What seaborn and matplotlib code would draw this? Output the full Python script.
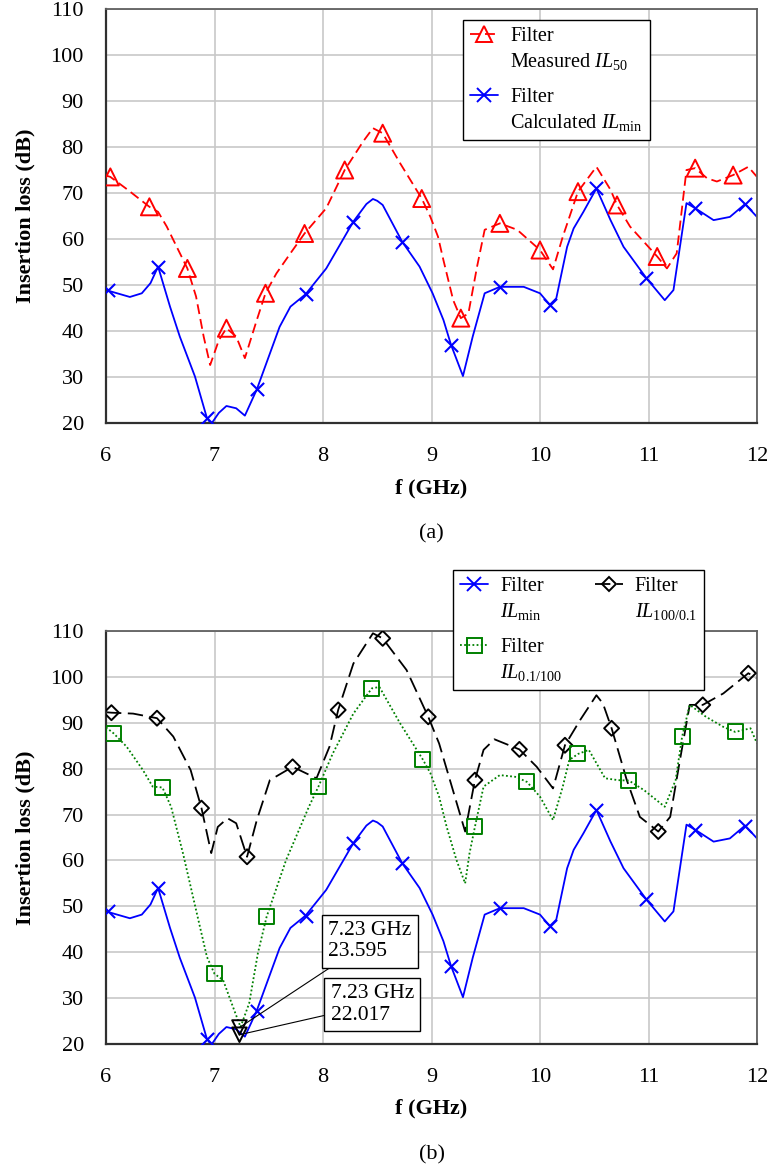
import numpy as np
import matplotlib
matplotlib.use("Agg")
import matplotlib.pyplot as plt
import seaborn as sns
from matplotlib.lines import Line2D

# ---------------- data ----------------
# Filter calculated IL_min (same curve in (a) and (b))
ilmin_f = [6.00, 6.22, 6.33, 6.41, 6.48, 6.59, 6.68, 6.82, 6.93, 6.97, 7.04, 7.11, 7.20,
           7.28, 7.39, 7.60, 7.70, 7.84, 8.03, 8.28, 8.40, 8.46, 8.50, 8.55, 8.73, 8.89,
           9.01, 9.11, 9.18, 9.29, 9.38, 9.49, 9.63, 9.85, 10.00, 10.09, 10.15, 10.25,
           10.31, 10.40, 10.52, 10.65, 10.77, 10.98, 11.15, 11.23, 11.35, 11.43, 11.60,
           11.75, 11.89, 12.00]
ilmin_db = [48.9, 47.4, 48.2, 50.4, 54.0, 45.3, 38.8, 30.1, 21.1, 19.8, 22.2, 23.7, 23.2,
            21.6, 27.3, 40.9, 45.3, 48.0, 53.6, 63.8, 67.6, 68.7, 68.3, 67.4, 59.4, 54.0,
            48.2, 42.4, 37.0, 30.2, 38.8, 48.2, 49.6, 49.6, 48.2, 45.7, 47.1, 58.3,
            62.3, 65.9, 71.0, 64.1, 58.3, 51.5, 46.7, 48.9, 67.8, 66.7, 64.1,
            64.8, 67.6, 64.8]
ilmin_mk_f = [6.02, 6.48, 6.93, 7.39, 7.84, 8.28, 8.73, 9.18, 9.63, 10.09, 10.52, 10.98, 11.43, 11.89]
ilmin_mk_db = [48.9, 54.0, 21.1, 27.3, 48.0, 63.8, 59.4, 37.0, 49.6, 45.7, 71.0, 51.5, 66.7, 67.6]

# Filter measured IL_50 (panel a)
il50_f = [6.00, 6.04, 6.20, 6.40, 6.48, 6.56, 6.75, 6.83, 6.90, 6.96, 7.04, 7.11, 7.20,
          7.28, 7.39, 7.47, 7.57, 7.70, 7.83, 8.03, 8.20, 8.37, 8.46, 8.55, 8.71, 8.91,
          8.99, 9.06, 9.11, 9.20, 9.27, 9.34, 9.42, 9.49, 9.63, 9.79, 10.00, 10.12, 10.21,
          10.35, 10.52, 10.65, 10.71, 10.83, 11.08, 11.17, 11.26, 11.35, 11.43, 11.54,
          11.63, 11.78, 11.92, 12.00]
il50_db = [73.8, 73.5, 70.7, 67.0, 65.9, 62.7, 53.6, 47.5, 38.8, 32.6, 38.0, 40.6, 38.8,
           34.1, 42.4, 48.2, 52.5, 56.9, 61.2, 66.7, 75.0, 81.2, 84.1, 83.0, 76.5, 68.8,
           64.8, 60.5, 55.4, 46.7, 42.8, 43.8, 54.0, 62.0, 63.4, 62.0, 57.6, 53.4, 60.5,
           70.3, 75.7, 70.7, 67.4, 62.7, 56.2, 53.6, 56.9, 75.0, 75.4, 73.2,
           72.5, 73.9, 75.7, 73.5]
il50_mk_f = [6.04, 6.40, 6.75, 7.11, 7.47, 7.83, 8.20, 8.55, 8.91, 9.27, 9.63, 10.00,
             10.35, 10.71, 11.08, 11.43, 11.78]
il50_mk_db = [73.5, 67.0, 53.6, 40.6, 48.2, 61.2, 75.0, 83.0, 68.8, 42.8, 63.4, 57.6,
              70.3, 67.4, 56.2, 75.4, 73.9]

# Filter IL_100/0.1 (panel b)
il100_f = [6.00, 6.05, 6.25, 6.47, 6.62, 6.78, 6.88, 6.97, 7.03, 7.12, 7.20, 7.30, 7.39,
           7.51, 7.72, 7.94, 8.06, 8.14, 8.28, 8.46, 8.55, 8.77, 8.97, 9.07, 9.17, 9.31,
           9.40, 9.48, 9.58, 9.81, 9.97, 10.12, 10.23, 10.37, 10.52, 10.58, 10.66, 10.80,
           10.92, 11.09, 11.20, 11.29, 11.38, 11.50, 11.69, 11.92, 12.00]
il100_db = [92.3, 92.2, 92.0, 91.0, 87.0, 79.7, 71.4, 61.6, 67.3, 69.2, 68.1, 60.8, 68.8,
            77.5, 80.4, 77.9, 84.8, 92.8, 102.9, 109.5, 108.4, 101.5, 91.3, 85.5, 77.5, 66.3,
            77.5, 84.1, 86.4, 84.2, 80.4, 75.7, 85.1, 90.6, 96.0, 94.2, 88.8, 77.5,
            69.5, 66.3, 69.5, 81.9, 93.9, 93.9, 96.4, 100.8, 99.7]
il100_mk_f = [6.05, 6.47, 6.88, 7.30, 7.72, 8.14, 8.55, 8.97, 9.40, 9.81, 10.23, 10.66,
              11.09, 11.50, 11.92]
il100_mk_db = [92.2, 91.0, 71.4, 60.8, 80.4, 92.8, 108.4, 91.3, 77.5, 84.2, 85.1, 88.8,
               66.3, 93.9, 100.8]

# Filter IL_0.1/100 (panel b)
il01_f = [6.00, 6.07, 6.19, 6.34, 6.43, 6.52, 6.60, 6.71, 6.83, 6.93, 7.00, 7.08, 7.17,
          7.24, 7.32, 7.40, 7.48, 7.66, 7.87, 7.96, 8.09, 8.28, 8.45, 8.52, 8.71, 8.92,
          8.99, 9.07, 9.14, 9.23, 9.31, 9.35, 9.40, 9.48, 9.63, 9.78, 9.88, 10.00, 10.12,
          10.21, 10.27, 10.35, 10.45, 10.60, 10.72, 10.82, 10.96, 11.15, 11.25, 11.31,
          11.38, 11.53, 11.69, 11.80, 11.94, 12.00]
il01_db = [89.0, 87.7, 84.8, 79.7, 76.1, 75.9, 71.7, 61.5, 49.2, 39.0, 35.3, 33.9, 28.1,
           23.7, 28.9, 39.8, 47.7, 60.1, 71.7, 76.2, 83.3, 92.0, 97.5, 97.8, 89.9, 82.0,
           79.0, 73.9, 67.3, 60.1, 55.0, 61.5, 67.3, 76.1, 78.6, 78.2, 77.1, 73.9, 68.8,
           76.1, 81.9, 83.2, 84.1, 77.9, 77.5, 77.4, 75.3, 71.7, 77.5, 87.0,
           93.9, 91.3, 89.1, 88.0, 88.8, 85.5]
il01_mk_f = [6.07, 6.52, 7.00, 7.48, 7.96, 8.45, 8.92, 9.40, 9.88, 10.35, 10.82, 11.31, 11.80]
il01_mk_db = [87.7, 75.9, 35.3, 47.7, 76.2, 97.5, 82.0, 67.3, 77.1, 83.2, 77.4, 87.0, 88.0]

# data-cursor annotations in panel (b)
ann_f = [7.23, 7.23]
ann_db = [23.595, 22.017]

x_ticks = [6, 7, 8, 9, 10, 11, 12]
y_ticks = [20, 30, 40, 50, 60, 70, 80, 90, 100, 110]

# ---------------- style ----------------
sns.set_theme(style="whitegrid")
plt.rcParams.update({
    "font.family": ["Liberation Serif", "DejaVu Serif"],
    "mathtext.fontset": "custom",
    "mathtext.rm": "Liberation Serif",
    "mathtext.it": "Liberation Serif:italic",
    "mathtext.bf": "Liberation Serif:bold",
    "text.color": "black",
    "axes.labelcolor": "black",
    "xtick.color": "black",
    "ytick.color": "black",
})

RED, BLUE, BLACK, GREEN = "#ff0000", "#0000ff", "#000000", "#008000"
LW = 1.3
LEG_LS = 1.3
red_ls = (0, (5.5, 2.8))
black_ls = (0, (8.5, 3.6))
green_ls = (0, (1.0, 1.3))

W, H = 770, 1169
fig = plt.figure(figsize=(W / 100, H / 100), dpi=100)
axA = fig.add_axes([106 / W, 1 - 423 / H, 651 / W, 414 / H])
axB = fig.add_axes([106 / W, 1 - 1044 / H, 651 / W, 413 / H])


def style_axes(ax, caption):
    ax.set_xlim(6, 12)
    ax.set_ylim(20, 110)
    ax.set_xticks(x_ticks)
    ax.set_yticks(y_ticks)
    ax.set_facecolor("white")
    ax.grid(True, color="#c8c8c8", linewidth=1.2)
    ax.set_axisbelow(True)
    ax.tick_params(axis="both", length=0, labelsize=16)
    ax.tick_params(axis="x", pad=17)
    ax.tick_params(axis="y", pad=16)
    for s in ["left", "bottom"]:
        ax.spines[s].set_color("#303030")
        ax.spines[s].set_linewidth(1.6)
    for s in ["top", "right"]:
        ax.spines[s].set_color("#606060")
        ax.spines[s].set_linewidth(1.3)
    ax.set_xlabel("f (GHz)", fontsize=16, fontweight="bold")
    ax.set_ylabel("Insertion loss (dB)", fontsize=16, fontweight="bold")
    ax.xaxis.set_label_coords(0.5, -0.133)
    ax.yaxis.set_label_coords(-0.108, 0.5)
    ax.text(0.5, -0.268, caption, transform=ax.transAxes, ha="center", va="center",
            fontsize=16)


def curve(ax, f, db, color, ls, z=2):
    sns.lineplot(x=f, y=db, ax=ax, color=color, linestyle=ls, linewidth=LW,
                 estimator=None, sort=False, zorder=z)


def marks(ax, f, db, marker, s, color, open_=True, z=4):
    if open_:
        sns.scatterplot(x=f, y=db, ax=ax, marker=marker, s=s, color=color,
                        facecolor="none", edgecolor=color, linewidth=1.4, zorder=z)
    else:
        sns.scatterplot(x=f, y=db, ax=ax, marker=marker, s=s, color=color,
                        linewidth=1.5, zorder=z)


def handle(color, ls, marker, ms, open_=True):
    return Line2D([], [], color=color, linestyle=ls, linewidth=LW, marker=marker,
                  markersize=ms, markerfacecolor="none" if open_ else color,
                  markeredgecolor=color, markeredgewidth=1.4)


LEG_KW = dict(borderaxespad=0, fontsize=14.5, frameon=True, fancybox=False,
              framealpha=1, edgecolor="black", borderpad=0.35, handlelength=1.4,
              handletextpad=0.6, labelspacing=0.8)

# ---------------- panel (a) ----------------
curve(axA, il50_f, il50_db, RED, red_ls)
curve(axA, ilmin_f, ilmin_db, BLUE, "-")
marks(axA, il50_mk_f, il50_mk_db, "^", 150, RED)
marks(axA, ilmin_mk_f, ilmin_mk_db, "x", 90, BLUE, open_=False)
style_axes(axA, "(a)")

h50 = handle(RED, red_ls, "^", 12)
hmin = handle(BLUE, "-", "x", 9.5, open_=False)
legA = axA.legend([h50, hmin],
                  ["Filter\nMeasured $\\mathit{IL}_{50}$",
                   "Filter\nCalculated $\\mathit{IL}_{\\mathrm{min}}$"],
                  loc="upper left", bbox_to_anchor=(0.548, 0.973), **LEG_KW)
legA.get_frame().set_linewidth(1.0)

# ---------------- panel (b) ----------------
curve(axB, il100_f, il100_db, BLACK, black_ls)
curve(axB, il01_f, il01_db, GREEN, green_ls)
curve(axB, ilmin_f, ilmin_db, BLUE, "-")
marks(axB, il100_mk_f, il100_mk_db, "D", 58, BLACK)
marks(axB, il01_mk_f, il01_mk_db, "s", 117, GREEN)
marks(axB, ilmin_mk_f, ilmin_mk_db, "x", 90, BLUE, open_=False)
marks(axB, ann_f, ann_db, "v", 110, BLACK, z=5)
style_axes(axB, "(b)")

ann_text_pos = [(8.05, 42.4), (8.07, 28.6)]
for fval, dbval, pos in zip(ann_f, ann_db, ann_text_pos):
    axB.annotate(f"{fval:.2f} GHz\n{dbval:.3f}", xy=(fval, dbval), xytext=pos,
                 textcoords="data", ha="left", va="center", fontsize=15.5,
                 linespacing=1.15, multialignment="left",
                 bbox=dict(boxstyle="square,pad=0.3", fc="white", ec="black", lw=1.0),
                 arrowprops=dict(arrowstyle="-", color="black", lw=0.8,
                                 shrinkA=0, shrinkB=0), zorder=6)

hmin_b = handle(BLUE, "-", "x", 9.5, open_=False)
h01 = handle(GREEN, green_ls, "s", 10.8)
h100 = handle(BLACK, black_ls, "D", 7.6)
legB = axB.legend([hmin_b, h01, h100],
                  ["Filter\n$\\mathit{IL}_{\\mathrm{min}}$",
                   "Filter\n$\\mathit{IL}_{0.1/100}$",
                   "Filter\n$\\mathit{IL}_{100/0.1}$"],
                  ncol=2, loc="upper left", bbox_to_anchor=(0.533, 1.148),
                  columnspacing=1.6, **LEG_KW)
legB.get_frame().set_linewidth(1.0)

for leg in (legA, legB):
    for t in leg.get_texts():
        t.set_linespacing(LEG_LS)

# align each legend handle with the first text line ("Filter")
fig.canvas.draw()
rend = fig.canvas.get_renderer()
for leg in (legA, legB):
    for t, hd in zip(leg.get_texts(), leg.legend_handles):
        bb = t.get_window_extent(rend)
        fs_px = t.get_fontsize() * fig.dpi / 72.0
        target = bb.y1 - 0.36 * fs_px
        xd = np.asarray(hd.get_xdata(), dtype=float)
        yd = np.asarray(hd.get_ydata(), dtype=float)
        cur = hd.get_transform().transform(np.column_stack([xd, yd]))[0, 1]
        hd.set_ydata(yd + (target - cur) * 72.0 / fig.dpi)

fig.savefig("out.png", dpi=100)
